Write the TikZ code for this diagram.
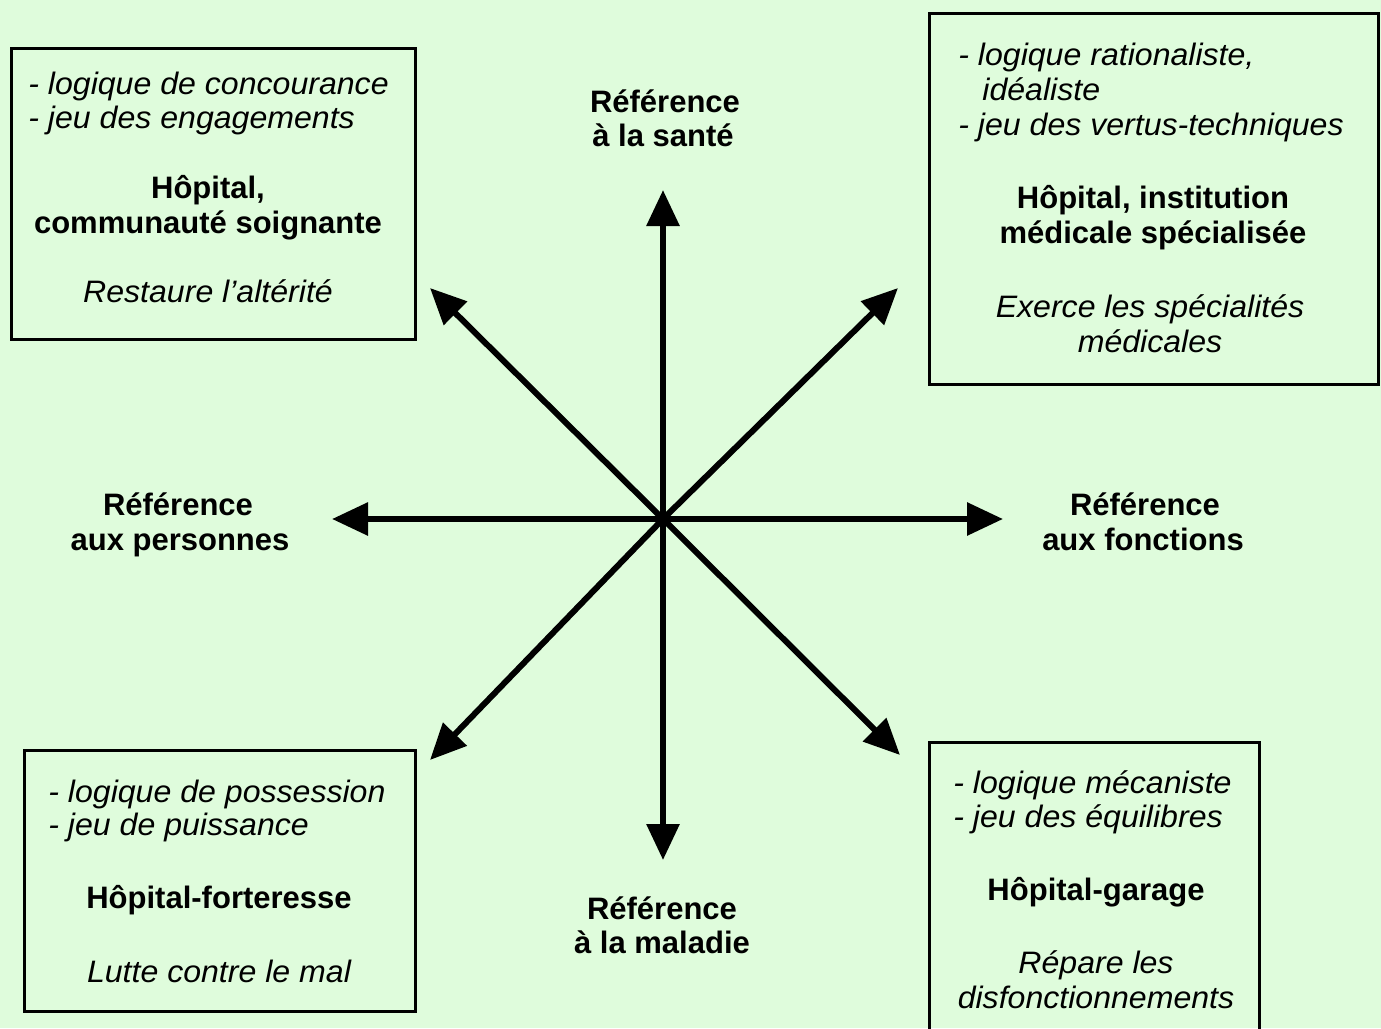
\documentclass[tikz,border=0pt]{standalone}
\usepackage{fontspec}
\setmainfont{Liberation Sans}[ItalicFeatures={FakeStretch=1.035}]
\usetikzlibrary{arrows.meta}
\definecolor{bg}{RGB}{223,252,220}
\begin{document}
\begin{tikzpicture}[x=0.5pt,y=-0.5pt,
  box/.style={draw, line width=1.25pt, inner sep=0pt, anchor=north west},
  itl/.style={font=\fontsize{15.5}{17}\selectfont\itshape, inner sep=0pt, anchor=base west},
  itc/.style={font=\fontsize{15.5}{17}\selectfont\itshape, inner sep=0pt, anchor=base},
  bfc/.style={font=\fontsize{15.5}{17}\selectfont\bfseries, inner sep=0pt, anchor=base},
  axis/.style={line width=3pt, -{Triangle[length=18pt,width=16pt]}}]
\useasboundingbox (0,0) rectangle (1381,1028);
\clip (0,0) rectangle (1381,1028);
\fill[bg] (0,0) rectangle (1381,1028);

% boxes
\node[box, minimum width=202pt, minimum height=145.5pt] (tlb) at (10,47) {};
\node[box, minimum width=224.5pt, minimum height=185.5pt] (trb) at (928,12) {};
\node[box, minimum width=195.5pt, minimum height=130.5pt] (blb) at (23,749) {};
\node[box, minimum width=165pt, minimum height=160pt] (brb) at (928,741) {};

% axes
\coordinate (c) at (663,519);
\coordinate (tN) at (663,190);
\coordinate (tS) at (663,860);
\coordinate (tW) at (332,519);
\coordinate (tE) at (1003,519);
\coordinate (tNE) at (898,288);
\coordinate (tNW) at (430,288);
\coordinate (tSW) at (430,760);
\coordinate (tSE) at (900,755);
\foreach \t in {tN,tS,tW,tE,tNE,tNW,tSW,tSE} \draw[axis] (c) -- (\t);

% axis labels
\node[bfc] (sa1) at (665,112) {Référence};
\node[bfc] (sa2) at (663,146) {à la santé};
\node[bfc] (pe1) at (178,515) {Référence};
\node[bfc] (pe2) at (180,550) {aux personnes};
\node[bfc] (fo1) at (1145,515) {Référence};
\node[bfc] (fo2) at (1143,550) {aux fonctions};
\node[bfc] (ma1) at (662,919) {Référence};
\node[bfc] (ma2) at (662,953) {à la maladie};

% top-left box
\node[itl] (tl1) at (28,94) {- logique de concourance};
\node[itl] (tl2) at (28,128) {- jeu des engagements};
\node[bfc] (tl3) at (208,198) {Hôpital,};
\node[bfc] (tl4) at (208,233) {communauté soignante};
\node[itc] (tl5) at (208,302) {Restaure l’altérité};

% top-right box
\node[itl] (tr1) at (958,65) {- logique rationaliste,};
\node[itl] (tr2) at (982,100) {idéaliste};
\node[itl] (tr3) at (958,135) {- jeu des vertus-techniques};
\node[bfc] (tr4) at (1153,208) {Hôpital, institution};
\node[bfc] (tr5) at (1153,243) {médicale spécialisée};
\node[itc] (tr6) at (1150,317) {Exerce les spécialités};
\node[itc] (tr7) at (1150,352) {médicales};

% bottom-left box
\node[itl] (bl1) at (48,802) {- logique de possession};
\node[itl] (bl2) at (48,835) {- jeu de puissance};
\node[bfc] (bl3) at (219,908) {Hôpital-forteresse};
\node[itc] (bl4) at (219,982) {Lutte contre le mal};

% bottom-right box
\node[itl] (br1) at (953,793) {- logique mécaniste};
\node[itl] (br2) at (953,827) {- jeu des équilibres};
\node[bfc] (br3) at (1096,900) {Hôpital-garage};
\node[itc] (br4) at (1096,973) {Répare les};
\node[itc] (br5) at (1096,1008) {disfonctionnements};
\end{tikzpicture}
\end{document}
